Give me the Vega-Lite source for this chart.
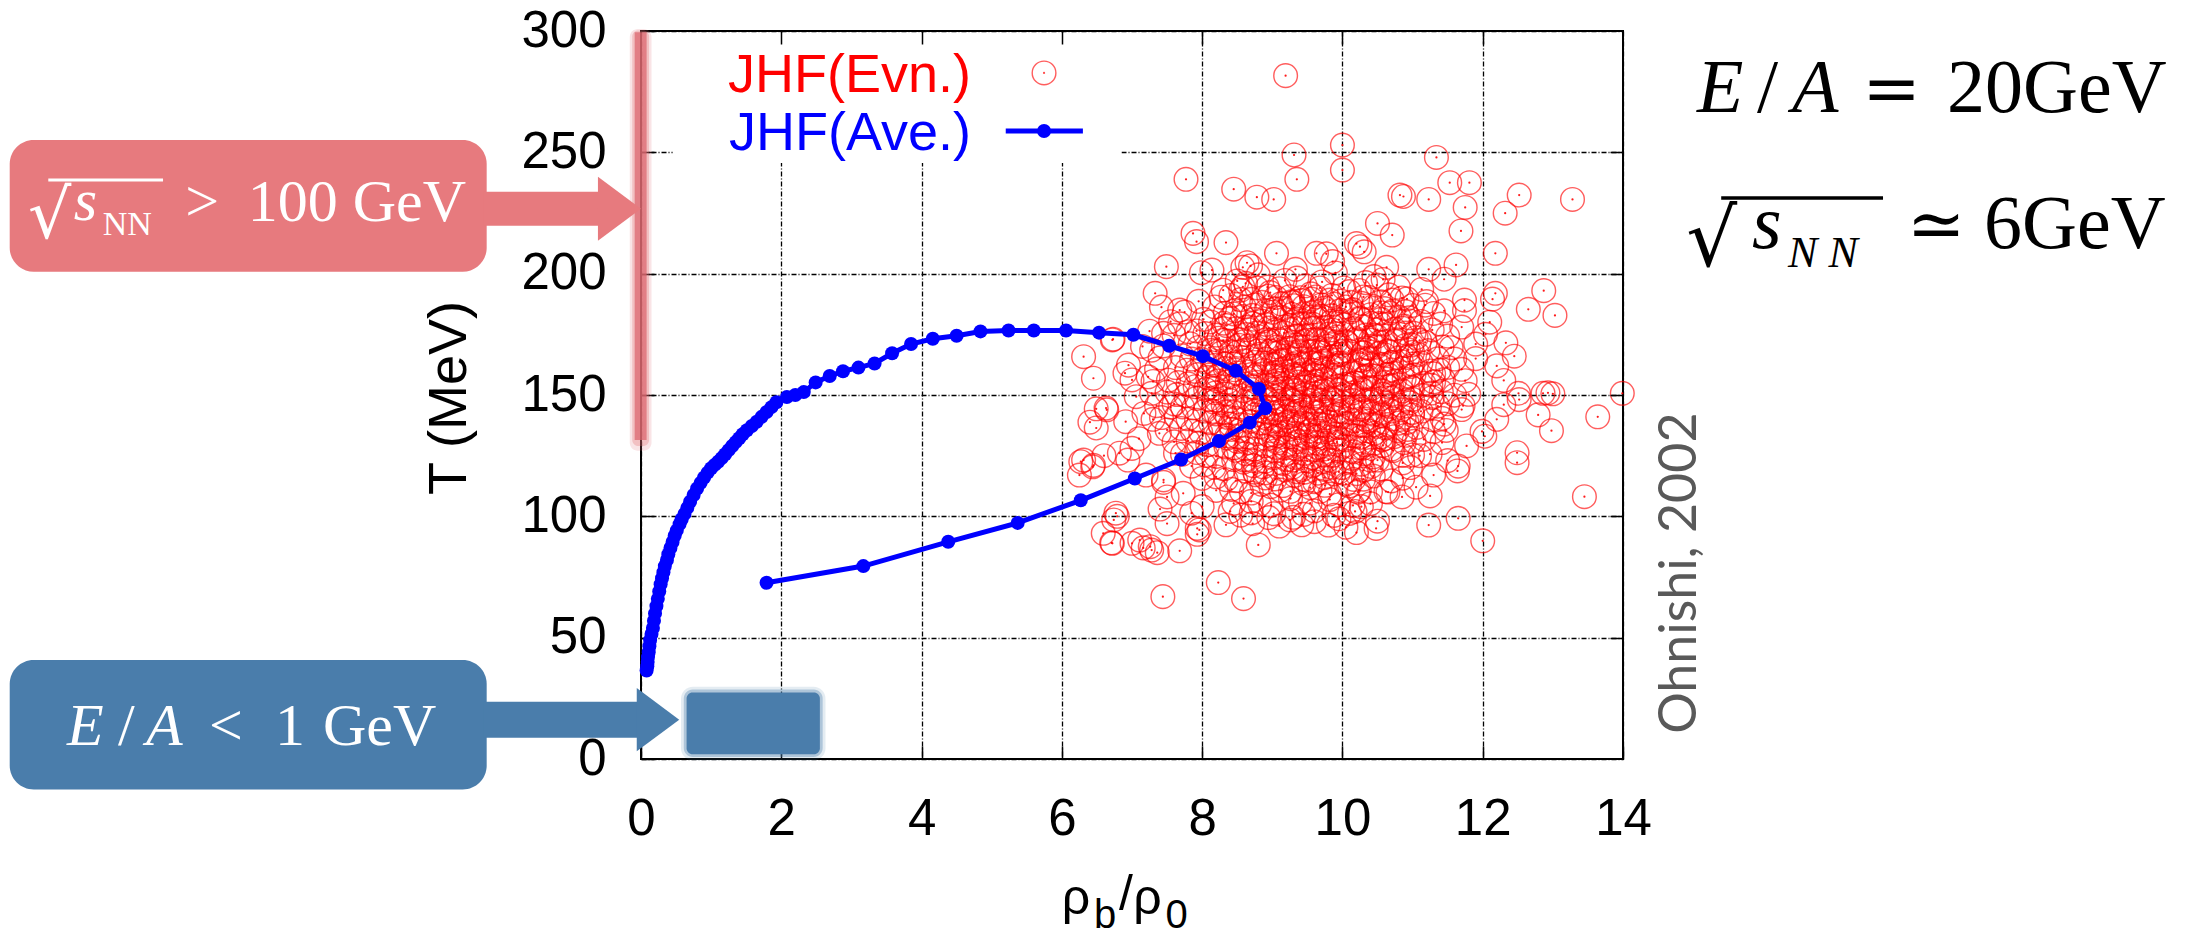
{
"$schema":"https://vega.github.io/schema/vega-lite/v6.json",
"width":982,"height":728,"autosize":"none",
"padding":{"left":641,"top":31,"right":576,"bottom":177},
"background":"#ffffff",
"config":{"view":{"stroke":"#000000","strokeWidth":2}},
"datasets":{
"events":[
{"x":9.19,"t":281.6},{"x":9.31,"t":248.9},{"x":9.35,"t":238.9},{"x":7.77,"t":238.9},{"x":8.45,"t":234.8},{"x":8.78,"t":231.5},{"x":9.02,"t":230.6},{"x":10.0,"t":253.0},{"x":10.0,"t":242.7},{"x":7.87,"t":216.6},{"x":7.92,"t":213.2},{"x":8.34,"t":212.8},{"x":9.06,"t":208.4},{"x":8.64,"t":204.5},{"x":8.58,"t":202.6},{"x":8.69,"t":203.2},{"x":9.33,"t":201.8},{"x":7.49,"t":202.9},{"x":9.63,"t":208.4},{"x":9.77,"t":208.2},{"x":9.86,"t":205.0},{"x":8.14,"t":201.5},{"x":7.99,"t":200.4},{"x":7.33,"t":191.9},{"x":7.68,"t":185.0},{"x":7.42,"t":186.2},{"x":6.73,"t":173.0},{"x":6.31,"t":165.8},{"x":6.45,"t":156.9},{"x":6.9,"t":159.0},{"x":7.0,"t":156.2},{"x":7.15,"t":170.0},{"x":8.5,"t":197.0},{"x":8.27,"t":190.3},{"x":8.55,"t":193.2},{"x":8.78,"t":194.1},{"x":9.05,"t":190.2},{"x":9.3,"t":188.1},{"x":9.62,"t":190.4},{"x":7.55,"t":180.2},{"x":7.25,"t":176.3},{"x":7.8,"t":176.1},{"x":6.95,"t":162.3},
{"x":11.34,"t":247.9},{"x":11.53,"t":237.5},{"x":11.81,"t":237.5},{"x":10.82,"t":232.4},{"x":10.87,"t":231.8},{"x":11.23,"t":230.6},{"x":11.75,"t":227.3},{"x":12.52,"t":232.4},{"x":13.28,"t":230.6},{"x":12.32,"t":224.9},{"x":11.69,"t":217.6},{"x":10.5,"t":220.7},{"x":10.71,"t":215.9},{"x":10.25,"t":211.1},{"x":10.2,"t":212.4},{"x":10.31,"t":209.0},{"x":12.18,"t":208.4},{"x":10.63,"t":202.6},{"x":11.23,"t":201.8},{"x":11.62,"t":203.6},{"x":11.45,"t":197.7},{"x":11.13,"t":193.5},{"x":10.49,"t":195.3},{"x":12.18,"t":191.9},{"x":12.14,"t":189.5},{"x":12.87,"t":193.0},{"x":12.65,"t":185.3},{"x":13.03,"t":182.8},{"x":11.74,"t":189.1},{"x":11.74,"t":184.8},{"x":11.45,"t":184.7},{"x":11.18,"t":187.0},{"x":10.85,"t":190.0},{"x":12.33,"t":171.5},{"x":12.04,"t":175.0},{"x":11.9,"t":171.0},{"x":12.51,"t":150.7},{"x":12.86,"t":150.7},{"x":12.93,"t":150.9},{"x":13.0,"t":150.5},{"x":13.99,"t":150.7},{"x":12.3,"t":156.0},{"x":12.2,"t":162.0},{"x":11.9,"t":165.0},{"x":12.45,"t":166.0},{"x":11.7,"t":178.0},{"x":12.1,"t":180.0},
{"x":7.44,"t":66.9},{"x":8.23,"t":72.7},{"x":8.59,"t":66.1},{"x":8.8,"t":88.2},{"x":7.68,"t":85.8},{"x":7.36,"t":85.0},{"x":7.16,"t":87.0},{"x":7.26,"t":87.5},{"x":6.71,"t":89.1},{"x":6.59,"t":93.0},{"x":6.79,"t":100.0},{"x":7.93,"t":95.0},{"x":7.93,"t":92.6},{"x":7.5,"t":97.0},{"x":9.8,"t":96.4},{"x":9.42,"t":96.5},{"x":9.1,"t":96.0},{"x":8.72,"t":97.0},{"x":8.34,"t":96.5},{"x":6.31,"t":123.2},{"x":6.25,"t":117.0},{"x":6.45,"t":121.0},{"x":6.6,"t":125.0},{"x":6.82,"t":126.0},{"x":6.91,"t":139.0},{"x":6.49,"t":144.3},{"x":6.4,"t":138.8},{"x":6.64,"t":143.9},{"x":7.0,"t":128.0},{"x":7.2,"t":117.0},{"x":7.45,"t":114.0},{"x":7.5,"t":108.0},{"x":7.4,"t":103.0},{"x":7.1,"t":132.0},{"x":7.3,"t":140.0},{"x":7.55,"t":145.0},{"x":8.0,"t":104.0},{"x":8.4,"t":102.0},
{"x":12.52,"t":148.1},{"x":12.79,"t":141.8},{"x":13.64,"t":141.0},{"x":12.98,"t":135.3},{"x":12.49,"t":126.2},{"x":12.49,"t":122.1},{"x":13.45,"t":108.1},{"x":12.03,"t":133.0},{"x":11.99,"t":135.0},{"x":11.65,"t":120.7},{"x":11.64,"t":118.7},{"x":11.5,"t":123.0},{"x":11.77,"t":129.0},{"x":11.25,"t":108.4},{"x":11.65,"t":99.2},{"x":11.23,"t":96.4},{"x":12.0,"t":89.9},{"x":10.2,"t":93.3},{"x":10.48,"t":95.0},{"x":10.5,"t":98.0},{"x":10.27,"t":104.0},{"x":10.18,"t":102.0},{"x":10.22,"t":110.0},{"x":10.65,"t":110.0},{"x":10.85,"t":108.0},{"x":11.05,"t":112.0},{"x":11.3,"t":117.0},{"x":11.1,"t":125.0},{"x":11.45,"t":138.0},{"x":11.7,"t":144.0},{"x":12.2,"t":140.0},{"x":12.3,"t":146.0},
{"x":6.63,"t":144.6},{"x":6.49,"t":136.4},{"x":6.27,"t":122.5},{"x":6.44,"t":120.4},{"x":6.94,"t":123.2},{"x":6.77,"t":101.3},{"x":6.74,"t":98.5},{"x":6.72,"t":88.9},{"x":7.0,"t":88.9},{"x":7.11,"t":90.2},{"x":7.28,"t":86.1},{"x":7.45,"t":175.4},{"x":7.28,"t":168.5},{"x":6.72,"t":172.7},{"x":7.23,"t":157.5},{"x":7.06,"t":149.3},{"x":7.17,"t":142.4},{"x":7.39,"t":134.2},{"x":7.62,"t":126.0},{"x":7.45,"t":115.0},{"x":7.73,"t":109.5},{"x":7.85,"t":101.3},{"x":7.96,"t":94.4},{"x":8.95,"t":99.5},{"x":9.25,"t":98.5},{"x":9.6,"t":97.8},{"x":9.95,"t":99.0},{"x":10.05,"t":95.5},{"x":8.55,"t":100.5},
{"x":8.62,"t":196},{"x":8.93,"t":194.5},{"x":9.18,"t":197.2},{"x":9.47,"t":195},{"x":9.71,"t":196.6},{"x":10.02,"t":194.1},{"x":10.33,"t":196.3},{"x":10.58,"t":197.6},
{"x":8.41,"t":191},{"x":8.7,"t":189.4},{"x":8.97,"t":192.2},{"x":9.25,"t":190.5},{"x":9.55,"t":191.7},{"x":9.82,"t":189.1},{"x":10.1,"t":192.6},{"x":10.38,"t":190.2},{"x":10.66,"t":191.3},{"x":10.92,"t":189.6},
{"x":8.18,"t":186.3},{"x":8.47,"t":184.8},{"x":8.76,"t":187.1},{"x":9.03,"t":185.5},{"x":9.31,"t":186.8},{"x":9.6,"t":184.2},{"x":9.88,"t":187.4},{"x":10.15,"t":185.1},{"x":10.44,"t":186.5},{"x":10.72,"t":184.6},{"x":11.0,"t":186.9},
{"x":8.02,"t":181.2},{"x":8.31,"t":179.6},{"x":8.58,"t":182.3},{"x":8.86,"t":180.4},{"x":9.14,"t":181.9},{"x":9.41,"t":179.2},{"x":9.7,"t":182.5},{"x":9.97,"t":180.1},{"x":10.26,"t":181.4},{"x":10.53,"t":179.5},{"x":10.81,"t":182},{"x":11.12,"t":180.3},
{"x":7.92,"t":176.4},{"x":8.2,"t":174.7},{"x":8.49,"t":177.3},{"x":8.77,"t":175.5},{"x":9.05,"t":176.9},{"x":9.33,"t":174.3},{"x":9.6,"t":177.6},{"x":9.9,"t":175.2},{"x":10.17,"t":176.5},{"x":10.45,"t":174.6},{"x":10.74,"t":177.1},{"x":11.02,"t":175.4},{"x":11.28,"t":176.8},
{"x":7.83,"t":171.1},{"x":8.1,"t":169.5},{"x":8.38,"t":172.2},{"x":8.66,"t":170.3},{"x":8.94,"t":171.8},{"x":9.22,"t":169.2},{"x":9.5,"t":172.6},{"x":9.78,"t":170.1},{"x":10.06,"t":171.5},{"x":10.35,"t":169.4},{"x":10.62,"t":172},{"x":10.9,"t":170.4},{"x":11.18,"t":171.7},{"x":11.42,"t":169.8},
{"x":7.71,"t":166.2},{"x":8.0,"t":164.6},{"x":8.27,"t":167.3},{"x":8.56,"t":165.4},{"x":8.83,"t":166.8},{"x":9.12,"t":164.3},{"x":9.4,"t":167.5},{"x":9.68,"t":165.1},{"x":9.95,"t":166.6},{"x":10.24,"t":164.5},{"x":10.52,"t":167.1},{"x":10.8,"t":165.3},{"x":11.08,"t":166.7},{"x":11.36,"t":164.9},
{"x":7.62,"t":161.3},{"x":7.9,"t":159.7},{"x":8.18,"t":162.2},{"x":8.46,"t":160.4},{"x":8.74,"t":161.9},{"x":9.02,"t":159.3},{"x":9.3,"t":162.6},{"x":9.58,"t":160.1},{"x":9.86,"t":161.6},{"x":10.14,"t":159.5},{"x":10.42,"t":162.1},{"x":10.7,"t":160.3},{"x":10.98,"t":161.8},{"x":11.26,"t":159.9},{"x":11.5,"t":161.4},
{"x":7.52,"t":156.1},{"x":7.8,"t":154.6},{"x":8.08,"t":157.2},{"x":8.36,"t":155.3},{"x":8.64,"t":156.8},{"x":8.92,"t":154.2},{"x":9.2,"t":157.5},{"x":9.48,"t":155.1},{"x":9.76,"t":156.6},{"x":10.04,"t":154.4},{"x":10.32,"t":157.1},{"x":10.6,"t":155.2},{"x":10.88,"t":156.7},{"x":11.16,"t":154.8},{"x":11.44,"t":156.3},
{"x":7.5,"t":151.2},{"x":7.77,"t":149.6},{"x":8.05,"t":152.3},{"x":8.33,"t":150.4},{"x":8.6,"t":151.8},{"x":8.9,"t":149.3},{"x":9.17,"t":152.6},{"x":9.45,"t":150.1},{"x":9.73,"t":151.6},{"x":10.01,"t":149.5},{"x":10.29,"t":152.1},{"x":10.57,"t":150.3},{"x":10.85,"t":151.7},{"x":11.13,"t":149.8},{"x":11.41,"t":151.4},{"x":11.6,"t":149.9},
{"x":7.6,"t":146.3},{"x":7.88,"t":144.7},{"x":8.16,"t":147.2},{"x":8.44,"t":145.4},{"x":8.72,"t":146.9},{"x":9.0,"t":144.3},{"x":9.28,"t":147.6},{"x":9.56,"t":145.2},{"x":9.84,"t":146.6},{"x":10.12,"t":144.5},{"x":10.4,"t":147.1},{"x":10.68,"t":145.3},{"x":10.96,"t":146.8},{"x":11.24,"t":144.9},{"x":11.5,"t":146.4},
{"x":7.63,"t":141.1},{"x":7.92,"t":139.6},{"x":8.2,"t":142.2},{"x":8.48,"t":140.3},{"x":8.76,"t":141.8},{"x":9.04,"t":139.2},{"x":9.32,"t":142.5},{"x":9.6,"t":140.1},{"x":9.88,"t":141.6},{"x":10.16,"t":139.4},{"x":10.44,"t":142.1},{"x":10.72,"t":140.2},{"x":11.0,"t":141.7},{"x":11.28,"t":139.8},
{"x":7.7,"t":136.2},{"x":7.98,"t":134.6},{"x":8.26,"t":137.3},{"x":8.54,"t":135.4},{"x":8.82,"t":136.9},{"x":9.1,"t":134.3},{"x":9.38,"t":137.5},{"x":9.66,"t":135.2},{"x":9.94,"t":136.6},{"x":10.22,"t":134.5},{"x":10.5,"t":137.1},{"x":10.78,"t":135.3},{"x":11.06,"t":136.7},{"x":11.3,"t":134.9},
{"x":7.8,"t":131.1},{"x":8.08,"t":129.5},{"x":8.36,"t":132.2},{"x":8.64,"t":130.3},{"x":8.92,"t":131.8},{"x":9.2,"t":129.2},{"x":9.48,"t":132.6},{"x":9.76,"t":130.1},{"x":10.04,"t":131.5},{"x":10.32,"t":129.4},{"x":10.6,"t":132},{"x":10.88,"t":130.4},{"x":11.16,"t":131.7},
{"x":7.92,"t":126.3},{"x":8.2,"t":124.7},{"x":8.48,"t":127.2},{"x":8.76,"t":125.4},{"x":9.04,"t":126.9},{"x":9.32,"t":124.3},{"x":9.6,"t":127.6},{"x":9.88,"t":125.2},{"x":10.16,"t":126.6},{"x":10.44,"t":124.5},{"x":10.72,"t":127.1},{"x":11.0,"t":125.3},
{"x":8.03,"t":121.2},{"x":8.31,"t":119.6},{"x":8.59,"t":122.3},{"x":8.87,"t":120.4},{"x":9.15,"t":121.8},{"x":9.43,"t":119.3},{"x":9.71,"t":122.6},{"x":9.99,"t":120.1},{"x":10.27,"t":121.5},{"x":10.55,"t":119.5},{"x":10.86,"t":122},
{"x":8.2,"t":116.3},{"x":8.48,"t":114.7},{"x":8.76,"t":117.2},{"x":9.04,"t":115.4},{"x":9.32,"t":116.9},{"x":9.6,"t":114.3},{"x":9.88,"t":117.5},{"x":10.16,"t":115.2},{"x":10.44,"t":116.6},{"x":10.7,"t":114.6},
{"x":8.42,"t":111.1},{"x":8.7,"t":109.6},{"x":8.98,"t":112.2},{"x":9.26,"t":110.3},{"x":9.54,"t":111.8},{"x":9.82,"t":109.2},{"x":10.1,"t":112.5},{"x":10.4,"t":110.1},
{"x":8.7,"t":106.2},{"x":8.98,"t":104.6},{"x":9.26,"t":107.3},{"x":9.54,"t":105.4},{"x":9.82,"t":106.9},{"x":10.15,"t":104.5},
{"x":9.02,"t":101.1},{"x":9.3,"t":99.6},{"x":9.6,"t":102.2},{"x":9.88,"t":100.4},
{"x":8.85,"t":188.2},{"x":9.12,"t":187.6},{"x":9.42,"t":188.9},{"x":9.7,"t":187.1},{"x":9.98,"t":188.7},{"x":10.27,"t":187.8},{"x":10.55,"t":188.4},
{"x":8.45,"t":183.4},{"x":8.72,"t":182.8},{"x":9.0,"t":184.1},{"x":9.28,"t":183.2},{"x":9.55,"t":183.9},{"x":9.84,"t":182.6},{"x":10.12,"t":184.3},{"x":10.4,"t":183.1},{"x":10.68,"t":183.7},
{"x":8.35,"t":178.6},{"x":8.63,"t":177.9},{"x":8.91,"t":179.1},{"x":9.19,"t":178.2},{"x":9.47,"t":179.3},{"x":9.75,"t":177.8},{"x":10.03,"t":178.9},{"x":10.31,"t":178.1},{"x":10.6,"t":179.2},{"x":10.88,"t":178.4},
{"x":8.24,"t":173.4},{"x":8.52,"t":172.9},{"x":8.8,"t":174.1},{"x":9.08,"t":173.1},{"x":9.36,"t":174.3},{"x":9.64,"t":172.7},{"x":9.92,"t":173.9},{"x":10.2,"t":173.2},{"x":10.49,"t":174.2},{"x":10.77,"t":172.8},{"x":11.05,"t":173.6},
{"x":8.13,"t":168.4},{"x":8.41,"t":167.8},{"x":8.69,"t":169.1},{"x":8.97,"t":168.2},{"x":9.25,"t":169.3},{"x":9.53,"t":167.7},{"x":9.81,"t":168.9},{"x":10.09,"t":168.1},{"x":10.38,"t":169.2},{"x":10.66,"t":167.9},{"x":10.94,"t":168.6},{"x":11.22,"t":168.3},
{"x":8.04,"t":163.6},{"x":8.32,"t":162.9},{"x":8.6,"t":164.1},{"x":8.88,"t":163.2},{"x":9.16,"t":164.2},{"x":9.44,"t":162.8},{"x":9.72,"t":163.9},{"x":10.0,"t":163.1},{"x":10.28,"t":164.3},{"x":10.56,"t":162.7},{"x":10.84,"t":163.8},{"x":11.12,"t":163.3},
{"x":7.94,"t":158.4},{"x":8.22,"t":157.9},{"x":8.5,"t":159.1},{"x":8.78,"t":158.1},{"x":9.06,"t":159.3},{"x":9.34,"t":157.7},{"x":9.62,"t":158.8},{"x":9.9,"t":158.2},{"x":10.18,"t":159.2},{"x":10.46,"t":157.8},{"x":10.74,"t":158.9},{"x":11.02,"t":158.3},{"x":11.3,"t":158.7},
{"x":7.9,"t":153.4},{"x":8.18,"t":152.8},{"x":8.46,"t":154.1},{"x":8.74,"t":153.2},{"x":9.02,"t":154.2},{"x":9.3,"t":152.7},{"x":9.58,"t":153.9},{"x":9.86,"t":153.1},{"x":10.14,"t":154.3},{"x":10.42,"t":152.8},{"x":10.7,"t":153.8},{"x":10.98,"t":153.2},{"x":11.26,"t":154.1},
{"x":7.92,"t":148.6},{"x":8.2,"t":147.9},{"x":8.48,"t":149.1},{"x":8.76,"t":148.2},{"x":9.04,"t":149.2},{"x":9.32,"t":147.8},{"x":9.6,"t":148.9},{"x":9.88,"t":148.1},{"x":10.16,"t":149.3},{"x":10.44,"t":147.7},{"x":10.72,"t":148.8},{"x":11.0,"t":148.2},{"x":11.28,"t":148.9},
{"x":8.04,"t":143.4},{"x":8.32,"t":142.9},{"x":8.6,"t":144.1},{"x":8.88,"t":143.2},{"x":9.16,"t":144.2},{"x":9.44,"t":142.8},{"x":9.72,"t":143.8},{"x":10.0,"t":143.1},{"x":10.28,"t":144.2},{"x":10.56,"t":142.7},{"x":10.84,"t":143.9},{"x":11.12,"t":143.3},
{"x":8.12,"t":138.6},{"x":8.4,"t":137.9},{"x":8.68,"t":139.1},{"x":8.96,"t":138.2},{"x":9.24,"t":139.3},{"x":9.52,"t":137.7},{"x":9.8,"t":138.9},{"x":10.08,"t":138.1},{"x":10.36,"t":139.2},{"x":10.64,"t":137.8},{"x":10.92,"t":138.7},
{"x":8.22,"t":133.4},{"x":8.5,"t":132.8},{"x":8.78,"t":134.1},{"x":9.06,"t":133.2},{"x":9.34,"t":134.2},{"x":9.62,"t":132.7},{"x":9.9,"t":133.9},{"x":10.18,"t":133.1},{"x":10.46,"t":134.3},{"x":10.74,"t":132.8},
{"x":8.34,"t":128.6},{"x":8.62,"t":127.9},{"x":8.9,"t":129.1},{"x":9.18,"t":128.2},{"x":9.46,"t":129.3},{"x":9.74,"t":127.8},{"x":10.02,"t":128.9},{"x":10.3,"t":128.1},{"x":10.58,"t":129.2},
{"x":8.45,"t":123.4},{"x":8.73,"t":122.9},{"x":9.01,"t":124.1},{"x":9.29,"t":123.2},{"x":9.57,"t":124.2},{"x":9.85,"t":122.8},{"x":10.13,"t":123.9},{"x":10.41,"t":123.1},
{"x":8.62,"t":118.6},{"x":8.9,"t":117.9},{"x":9.18,"t":119.1},{"x":9.46,"t":118.2},{"x":9.74,"t":119.3},{"x":10.02,"t":117.8},{"x":10.3,"t":118.9},
{"x":8.8,"t":199.5},{"x":9.35,"t":198.2},{"x":9.9,"t":200.3},{"x":10.45,"t":198.8},
{"x":8.3,"t":193.2},{"x":8.58,"t":194.6},{"x":9.1,"t":193.8},{"x":9.68,"t":194.1},{"x":10.24,"t":193.1},{"x":10.8,"t":194.4},
{"x":7.95,"t":188.6},{"x":8.55,"t":189.3},{"x":9.27,"t":188.4},{"x":9.56,"t":189.5},{"x":10.12,"t":188.2},{"x":10.71,"t":189.1},{"x":11.2,"t":188.5},
{"x":7.75,"t":184.2},{"x":8.33,"t":183.7},{"x":8.91,"t":184.6},{"x":9.45,"t":183.5},{"x":9.97,"t":184.8},{"x":10.55,"t":183.9},{"x":10.9,"t":184.4},{"x":11.3,"t":183.6},
{"x":7.68,"t":179.3},{"x":8.12,"t":180.1},{"x":8.72,"t":179.4},{"x":9.3,"t":180.2},{"x":9.58,"t":179.1},{"x":9.85,"t":180.4},{"x":10.4,"t":179.6},{"x":10.96,"t":180.5},{"x":11.4,"t":179.2},
{"x":7.6,"t":174.6},{"x":8.04,"t":175.3},{"x":8.63,"t":174.9},{"x":9.17,"t":175.6},{"x":9.48,"t":174.4},{"x":9.8,"t":175.1},{"x":10.33,"t":174.7},{"x":10.9,"t":175.5},{"x":11.5,"t":174.3},
{"x":7.45,"t":170.2},{"x":7.95,"t":169.6},{"x":8.52,"t":170.5},{"x":9.07,"t":169.8},{"x":9.35,"t":170.6},{"x":9.65,"t":169.4},{"x":9.98,"t":170.3},{"x":10.48,"t":169.7},{"x":10.99,"t":170.6},{"x":11.55,"t":169.5},
{"x":7.4,"t":165.3},{"x":7.85,"t":164.8},{"x":8.4,"t":165.6},{"x":8.92,"t":164.7},{"x":9.25,"t":165.4},{"x":9.55,"t":164.6},{"x":9.85,"t":165.7},{"x":10.36,"t":164.9},{"x":10.93,"t":165.5},{"x":11.6,"t":164.8},
{"x":7.35,"t":160.7},{"x":7.78,"t":160.2},{"x":8.33,"t":160.9},{"x":8.88,"t":160.1},{"x":9.15,"t":160.8},{"x":9.45,"t":160.3},{"x":9.72,"t":161.0},{"x":10.27,"t":160.4},{"x":10.85,"t":160.9},{"x":11.38,"t":160.2},{"x":11.7,"t":160.6},
{"x":7.3,"t":155.6},{"x":7.66,"t":155.1},{"x":8.22,"t":155.8},{"x":8.78,"t":155.2},{"x":9.06,"t":155.9},{"x":9.37,"t":155.3},{"x":9.62,"t":155.7},{"x":10.18,"t":155.0},{"x":10.74,"t":155.8},{"x":11.3,"t":155.4},{"x":11.75,"t":155.9},
{"x":7.28,"t":150.7},{"x":7.64,"t":150.2},{"x":8.19,"t":150.9},{"x":8.75,"t":150.3},{"x":9.03,"t":150.8},{"x":9.3,"t":150.1},{"x":9.6,"t":150.6},{"x":9.95,"t":150.2},{"x":10.15,"t":150.9},{"x":10.71,"t":150.4},{"x":11.27,"t":150.8},{"x":11.8,"t":150.3},
{"x":7.35,"t":145.6},{"x":7.72,"t":145.1},{"x":8.3,"t":145.8},{"x":8.86,"t":145.2},{"x":9.14,"t":145.9},{"x":9.42,"t":145.3},{"x":9.7,"t":145.7},{"x":10.26,"t":145.1},{"x":10.82,"t":145.8},{"x":11.36,"t":145.4},{"x":11.72,"t":145.6},
{"x":7.42,"t":140.7},{"x":7.8,"t":140.2},{"x":8.36,"t":140.8},{"x":8.92,"t":140.4},{"x":9.2,"t":140.9},{"x":9.48,"t":140.3},{"x":9.76,"t":140.6},{"x":10.32,"t":140.1},{"x":10.88,"t":140.8},{"x":11.42,"t":140.4},
{"x":7.5,"t":135.6},{"x":7.86,"t":135.2},{"x":8.42,"t":135.8},{"x":8.98,"t":135.3},{"x":9.25,"t":135.9},{"x":9.53,"t":135.1},{"x":9.81,"t":135.7},{"x":10.37,"t":135.2},{"x":10.93,"t":135.8},{"x":11.48,"t":135.4},
{"x":7.6,"t":130.7},{"x":7.95,"t":130.2},{"x":8.5,"t":130.9},{"x":9.08,"t":130.3},{"x":9.36,"t":130.8},{"x":9.64,"t":130.1},{"x":9.92,"t":130.6},{"x":10.46,"t":130.2},{"x":11.02,"t":130.9},{"x":11.42,"t":130.4},
{"x":7.72,"t":125.6},{"x":8.06,"t":125.1},{"x":8.62,"t":125.8},{"x":9.18,"t":125.3},{"x":9.46,"t":125.9},{"x":9.74,"t":125.2},{"x":10.3,"t":125.7},{"x":10.86,"t":125.1},{"x":11.25,"t":125.6},
{"x":7.85,"t":120.7},{"x":8.17,"t":120.2},{"x":8.73,"t":120.9},{"x":9.29,"t":120.3},{"x":9.57,"t":120.8},{"x":9.85,"t":120.2},{"x":10.41,"t":120.6},{"x":10.97,"t":120.1},
{"x":8.0,"t":115.6},{"x":8.34,"t":115.1},{"x":8.9,"t":115.8},{"x":9.46,"t":115.2},{"x":9.74,"t":115.9},{"x":10.3,"t":115.3},{"x":10.86,"t":115.7},
{"x":8.2,"t":110.7},{"x":8.56,"t":110.2},{"x":9.12,"t":110.8},{"x":9.68,"t":110.3},{"x":10.24,"t":110.6},{"x":10.62,"t":110.2},
{"x":8.45,"t":105.3},{"x":8.82,"t":104.9},{"x":9.4,"t":105.6},{"x":9.95,"t":104.8},{"x":10.4,"t":105.2},
{"x":8.7,"t":101.4},{"x":9.45,"t":100.8},{"x":10.1,"t":101.2},
{"x":8.98,"t":172.4},{"x":9.29,"t":171.6},{"x":9.6,"t":172.8},{"x":9.91,"t":171.9},{"x":10.22,"t":172.5},{"x":10.53,"t":171.7},
{"x":9.05,"t":167.2},{"x":9.36,"t":166.5},{"x":9.67,"t":167.6},{"x":9.98,"t":166.8},{"x":10.29,"t":167.4},{"x":10.6,"t":166.6},
{"x":9.0,"t":162.3},{"x":9.31,"t":161.7},{"x":9.62,"t":162.7},{"x":9.93,"t":161.9},{"x":10.24,"t":162.4},{"x":10.55,"t":161.6},
{"x":9.08,"t":157.2},{"x":9.39,"t":156.6},{"x":9.7,"t":157.6},{"x":10.01,"t":156.8},{"x":10.32,"t":157.4},{"x":10.63,"t":156.5},
{"x":9.02,"t":152.4},{"x":9.33,"t":151.7},{"x":9.64,"t":152.7},{"x":9.95,"t":151.9},{"x":10.26,"t":152.5},{"x":10.57,"t":151.6},
{"x":9.08,"t":147.3},{"x":9.39,"t":146.6},{"x":9.7,"t":147.7},{"x":10.01,"t":146.8},{"x":10.32,"t":147.4},{"x":10.63,"t":146.5},
{"x":9.0,"t":142.4},{"x":9.31,"t":141.7},{"x":9.62,"t":142.8},{"x":9.93,"t":141.9},{"x":10.24,"t":142.5},{"x":10.55,"t":141.6},
{"x":9.06,"t":137.2},{"x":9.37,"t":136.6},{"x":9.68,"t":137.7},{"x":9.99,"t":136.8},{"x":10.3,"t":137.4},{"x":10.61,"t":136.5},
{"x":9.02,"t":132.4},{"x":9.33,"t":131.7},{"x":9.64,"t":132.8},{"x":9.95,"t":131.9},{"x":10.26,"t":132.5},{"x":10.57,"t":131.6},
{"x":8.95,"t":190.7},{"x":9.4,"t":190.1},{"x":9.85,"t":191.0},{"x":10.3,"t":190.4},
{"x":8.6,"t":186.2},{"x":9.15,"t":185.7},{"x":9.45,"t":186.4},{"x":9.75,"t":185.8},{"x":10.05,"t":186.3},{"x":10.6,"t":185.6},
{"x":8.4,"t":181.7},{"x":8.75,"t":181.2},{"x":9.05,"t":181.9},{"x":9.35,"t":181.3},{"x":9.65,"t":181.8},{"x":9.95,"t":181.1},{"x":10.25,"t":181.7},{"x":10.55,"t":181.2},{"x":10.95,"t":181.8},
{"x":8.3,"t":177.4},{"x":8.65,"t":176.9},{"x":8.95,"t":177.6},{"x":9.25,"t":177.0},{"x":9.55,"t":177.5},{"x":9.85,"t":176.8},{"x":10.15,"t":177.4},{"x":10.5,"t":176.9},{"x":10.85,"t":177.6},
{"x":8.3,"t":172.5},{"x":8.6,"t":172.0},{"x":8.9,"t":172.7},{"x":9.45,"t":172.1},{"x":9.75,"t":172.6},{"x":10.05,"t":172.0},{"x":10.4,"t":172.6},{"x":10.75,"t":172.1},{"x":11.1,"t":172.5},
{"x":8.2,"t":168.0},{"x":8.5,"t":167.5},{"x":8.8,"t":168.2},{"x":9.1,"t":167.6},{"x":9.4,"t":168.1},{"x":9.7,"t":167.4},{"x":10.0,"t":168.0},{"x":10.3,"t":167.5},{"x":10.65,"t":168.2},{"x":11.0,"t":167.6},
{"x":8.15,"t":163.2},{"x":8.45,"t":162.7},{"x":8.75,"t":163.4},{"x":9.05,"t":162.8},{"x":9.35,"t":163.3},{"x":9.65,"t":162.6},{"x":9.95,"t":163.2},{"x":10.4,"t":162.7},{"x":10.7,"t":163.4},{"x":11.0,"t":162.8},
{"x":8.1,"t":158.2},{"x":8.4,"t":157.7},{"x":8.7,"t":158.4},{"x":9.0,"t":157.8},{"x":9.3,"t":158.3},{"x":9.55,"t":157.6},{"x":9.85,"t":158.2},{"x":10.35,"t":157.7},{"x":10.65,"t":158.4},{"x":10.95,"t":157.8},
{"x":8.1,"t":153.2},{"x":8.4,"t":152.7},{"x":8.7,"t":153.4},{"x":9.15,"t":152.8},{"x":9.45,"t":153.3},{"x":9.75,"t":152.6},{"x":10.05,"t":153.2},{"x":10.35,"t":152.7},{"x":10.65,"t":153.4},{"x":11.0,"t":152.8},
{"x":8.1,"t":148.2},{"x":8.4,"t":147.7},{"x":8.65,"t":148.4},{"x":8.95,"t":147.8},{"x":9.25,"t":148.3},{"x":9.55,"t":147.6},{"x":9.85,"t":148.2},{"x":10.15,"t":147.7},{"x":10.55,"t":148.4},{"x":10.9,"t":147.8},
{"x":8.15,"t":143.2},{"x":8.45,"t":142.7},{"x":8.75,"t":143.4},{"x":9.05,"t":142.8},{"x":9.35,"t":143.3},{"x":9.65,"t":142.6},{"x":9.95,"t":143.2},{"x":10.4,"t":142.7},{"x":10.7,"t":143.4},{"x":11.0,"t":142.8},
{"x":8.25,"t":138.2},{"x":8.55,"t":137.7},{"x":8.85,"t":138.4},{"x":9.15,"t":137.8},{"x":9.45,"t":138.3},{"x":9.75,"t":137.6},{"x":10.05,"t":138.2},{"x":10.45,"t":137.7},{"x":10.8,"t":138.4},
{"x":8.35,"t":133.2},{"x":8.65,"t":132.7},{"x":8.95,"t":133.4},{"x":9.25,"t":132.8},{"x":9.55,"t":133.3},{"x":9.85,"t":132.6},{"x":10.15,"t":133.2},{"x":10.55,"t":132.7},{"x":10.9,"t":133.4},
{"x":8.45,"t":128.2},{"x":8.75,"t":127.7},{"x":9.05,"t":128.4},{"x":9.35,"t":127.8},{"x":9.65,"t":128.3},{"x":9.95,"t":127.6},{"x":10.25,"t":128.2},{"x":10.7,"t":127.7},
{"x":8.6,"t":123.2},{"x":8.9,"t":122.7},{"x":9.2,"t":123.4},{"x":9.5,"t":122.8},{"x":9.8,"t":123.3},{"x":10.1,"t":122.6},{"x":10.5,"t":123.2},
{"x":8.75,"t":118.2},{"x":9.05,"t":117.7},{"x":9.35,"t":118.4},{"x":9.65,"t":117.8},{"x":9.95,"t":118.3},{"x":10.2,"t":117.6},
{"x":8.85,"t":113.2},{"x":9.15,"t":112.7},{"x":9.45,"t":113.4},{"x":9.75,"t":112.8},{"x":10.05,"t":113.3}
],
"ave":[
{"o":1,"x":1.79,"t":72.6},{"o":2,"x":3.17,"t":79.5},{"o":3,"x":4.38,"t":89.5},{"o":4,"x":5.37,"t":97.3},{"o":5,"x":6.27,"t":106.6},{"o":6,"x":7.04,"t":115.6},{"o":7,"x":7.7,"t":123.4},{"o":8,"x":8.24,"t":131},{"o":9,"x":8.68,"t":138.6},{"o":10,"x":8.9,"t":144.5},{"o":11,"x":8.81,"t":152.5},{"o":12,"x":8.48,"t":160},{"o":13,"x":8.01,"t":166},{"o":14,"x":7.53,"t":170.3},{"o":15,"x":7.02,"t":174.8},{"o":16,"x":6.53,"t":175.7},{"o":17,"x":6.06,"t":176.6},{"o":18,"x":5.6,"t":176.6},{"o":19,"x":5.24,"t":176.6},{"o":20,"x":4.84,"t":176.2},{"o":21,"x":4.5,"t":174.4},{"o":22,"x":4.16,"t":173.2},{"o":23,"x":3.85,"t":171},{"o":24,"x":3.58,"t":167.2},{"o":25,"x":3.33,"t":163},{"o":26,"x":3.1,"t":161.3},{"o":27,"x":2.88,"t":159.8},{"o":28,"x":2.69,"t":157.8},{"o":29,"x":2.49,"t":155.2},{"o":30,"x":2.32,"t":151.2},{"o":31,"x":2.2,"t":150},{"o":32,"x":2.08,"t":149.2},{"o":33,"x":1.93,"t":147},{"o":34,"x":1.86,"t":145},{"o":35,"x":1.79,"t":143},{"o":36,"x":1.72,"t":141},{"o":37,"x":1.65,"t":139},{"o":38,"x":1.58,"t":137.2},{"o":39,"x":1.51,"t":135.5},{"o":40,"x":1.45,"t":133.8},{"o":41,"x":1.4,"t":132.2},{"o":42,"x":1.35,"t":130.6},{"o":43,"x":1.3,"t":129},{"o":44,"x":1.25,"t":127.3},{"o":45,"x":1.2,"t":125.6},{"o":46,"x":1.15,"t":124},{"o":47,"x":1.1,"t":122.5},{"o":48,"x":1.05,"t":121.2},{"o":49,"x":1.0,"t":119.8},{"o":50,"x":0.95,"t":118},{"o":51,"x":0.9,"t":116},{"o":52,"x":0.85,"t":113.8},{"o":53,"x":0.8,"t":111.5},{"o":54,"x":0.75,"t":108.8},{"o":55,"x":0.7,"t":106},{"o":56,"x":0.66,"t":103.5},{"o":57,"x":0.62,"t":101},{"o":58,"x":0.58,"t":98.8},{"o":59,"x":0.55,"t":96.8},{"o":60,"x":0.51,"t":94.2},{"o":61,"x":0.48,"t":92},{"o":62,"x":0.45,"t":89.4},{"o":63,"x":0.42,"t":87},{"o":64,"x":0.39,"t":84.4},{"o":65,"x":0.37,"t":82},{"o":66,"x":0.34,"t":79.5},{"o":67,"x":0.32,"t":77},{"o":68,"x":0.3,"t":74.5},{"o":69,"x":0.28,"t":72},{"o":70,"x":0.26,"t":69},{"o":71,"x":0.24,"t":66},{"o":72,"x":0.22,"t":63},{"o":73,"x":0.2,"t":60},{"o":74,"x":0.185,"t":57},{"o":75,"x":0.17,"t":54},{"o":76,"x":0.15,"t":51.5},{"o":77,"x":0.13,"t":49},{"o":78,"x":0.12,"t":46.5},{"o":79,"x":0.11,"t":44},{"o":80,"x":0.1,"t":42},{"o":81,"x":0.095,"t":40},{"o":82,"x":0.09,"t":38.2},{"o":83,"x":0.08,"t":36.5}
],
"legbox":[{"x":0.45,"x2":6.85,"t":245.6,"t2":299.2}],
"legevn":[{"x":4.705,"t":274.9,"label":"JHF(Evn.)"}],
"legave":[{"x":4.705,"t":251.0,"label":"JHF(Ave.)"}],
"legsym":[{"x":5.746,"t":282.7}],
"legline":[{"x":5.2,"t":258.8},{"x":6.3,"t":258.8}],
"legdot":[{"x":5.746,"t":258.8}],
"pinkglow":[{"x":-0.16,"x2":0.15,"t":127.0,"t2":300.8}],
"pinkglow2":[{"x":-0.125,"x2":0.115,"t":129.0,"t2":300.2}],
"pinkband":[{"x":-0.09,"x2":0.08,"t":131.5,"t2":299.5}],
"pinkbox":[{"x":-9.0,"x2":-2.2,"t":255.1,"t2":200.8}],
"pinkshaft":[{"x":-2.25,"x2":-0.6,"t":226.8}],
"pinkhead":[{"x":-0.307,"t":226.8}],
"bluebox":[{"x":-9.0,"x2":-2.2,"t":40.8,"t2":-12.6}],
"blueshaft":[{"x":-2.25,"x2":0.0,"t":16.2}],
"bluehead":[{"x":0.242,"t":16.2}],
"blueglow":[{"x":0.57,"x2":2.63,"t":-0.5,"t2":29.8}],
"blueglow2":[{"x":0.61,"x2":2.59,"t":0.8,"t2":28.6}],
"bluerect":[{"x":0.65,"x2":2.55,"t":2.0,"t2":27.4}],
"w_roman":[{"x":-6.497,"t":221.7,"label":">"},{"x":-5.606,"t":221.7,"label":"100 GeV"},{"x":-7.457,"t":5.6,"label":"/"},{"x":-6.159,"t":5.6,"label":"<"},{"x":-5.218,"t":5.6,"label":"1"},{"x":-4.534,"t":5.6,"label":"GeV"}],
"w_italic":[{"x":-8.088,"t":222.1,"label":"s"},{"x":-8.184,"t":5.6,"label":"E"},{"x":-7.057,"t":5.6,"label":"A"}],
"w_sub":[{"x":-7.675,"t":215.9,"label":"NN"}],
"w_rad":[{"x":-8.74,"t":214.6,"label":"√"}],
"w_bar":[{"x":-8.45,"x2":-6.814,"t":238.6}],
"k_roman":[{"x":15.911,"t":266.6,"label":"/"},{"x":18.62,"t":266.6,"label":"20GeV"},{"x":19.147,"t":210.6,"label":"6GeV"}],
"k_italic":[{"x":15.055,"t":266.6,"label":"E"},{"x":16.41,"t":266.6,"label":"A"},{"x":15.84,"t":210.6,"label":"s"}],
"k_sub":[{"x":16.353,"t":202.7,"label":"N N"}],
"k_rad":[{"x":14.9,"t":203.1,"label":"√"}],
"k_sym":[{"x":18.05,"t":210.6,"label":"≃"},{"x":17.41,"t":266.6,"label":"="}],
"k_bar":[{"x":15.4,"x2":17.707,"t":231.2}],
"xt_main":[{"x":5.998,"t":-63.9,"label":"ρ"},{"x":7.017,"t":-63.9,"label":"ρ"},{"x":6.816,"t":-62.2,"label":"/"}],
"xt_sub":[{"x":6.459,"t":-69.6,"label":"b"},{"x":7.478,"t":-69.6,"label":"0"}],
"credit":[{"x":14.81,"t":76.6,"label":"Ohnishi, 2002"}]
},
"encoding":{
"x":{"field":"x","type":"quantitative","scale":{"domain":[0,14],"nice":false,"zero":false},"axis":null},
"y":{"field":"t","type":"quantitative","scale":{"domain":[0,300],"nice":false,"zero":false},"axis":null}
},
"resolve":{"axis":{"x":"independent","y":"independent"}},
"layer":[
{"data":{"name":"events"},"mark":{"type":"point","shape":"circle","filled":false,"stroke":"#ff0000","strokeWidth":1.4,"strokeOpacity":0.9,"size":560},
 "encoding":{
 "x":{"field":"x","type":"quantitative","scale":{"domain":[0,14],"nice":false,"zero":false},"axis":{"orient":"bottom","values":[0,2,4,6,8,10,12,14],"title":null,"grid":true,"gridDash":[5,2,1,2],"gridColor":"#000000","gridWidth":1.3,"gridOpacity":1,"domain":false,"ticks":true,"tickSize":-13,"tickColor":"#000000","tickWidth":1.5,"labelFont":"Liberation Sans","labelFontSize":51,"labelColor":"#000000","labelPadding":48,"labelFlush":false,"labelOverlap":false,"zindex":0}},
 "y":{"field":"t","type":"quantitative","scale":{"domain":[0,300],"nice":false,"zero":false},"axis":{"orient":"left","values":[0,50,100,150,200,250,300],"title":"T (MeV)","titleFont":"Liberation Sans","titleFontSize":54,"titleFontWeight":"normal","titleColor":"#000000","titleX":-176,"titleY":366.5,"titleAngle":270,"titleAlign":"center","titleBaseline":"alphabetic","grid":true,"gridDash":[5,2,1,2],"gridColor":"#000000","gridWidth":1.3,"gridOpacity":1,"domain":false,"ticks":true,"tickSize":-13,"tickColor":"#000000","tickWidth":1.5,"labelFont":"Liberation Sans","labelFontSize":51,"labelColor":"#000000","labelPadding":48,"labelFlush":false,"labelOverlap":false,"zindex":0}}
 }},
{"data":{"name":"events"},"mark":{"type":"point","shape":"circle","filled":true,"color":"#ff0000","size":5,"opacity":0.9}},
{"data":{"name":"legbox"},"mark":{"type":"rect","fill":"#ffffff"},"encoding":{"x2":{"field":"x2"},"y2":{"field":"t2"}}},
{"data":{"name":"ave"},"mark":{"type":"line","color":"#0000ff","strokeWidth":5},"encoding":{"order":{"field":"o","type":"quantitative"}}},
{"data":{"name":"ave"},"mark":{"type":"point","shape":"circle","filled":true,"color":"#0000ff","opacity":1,"size":196}},
{"data":{"name":"legevn"},"mark":{"type":"text","align":"right","baseline":"alphabetic","font":"Liberation Sans","fontSize":54,"color":"#ff0000"},"encoding":{"text":{"field":"label"}}},
{"data":{"name":"legave"},"mark":{"type":"text","align":"right","baseline":"alphabetic","font":"Liberation Sans","fontSize":54,"color":"#0000ff"},"encoding":{"text":{"field":"label"}}},
{"data":{"name":"legsym"},"mark":{"type":"point","shape":"circle","filled":false,"stroke":"#ff0000","strokeWidth":1.4,"strokeOpacity":0.9,"size":560}},
{"data":{"name":"legsym"},"mark":{"type":"point","shape":"circle","filled":true,"color":"#ff0000","size":5}},
{"data":{"name":"legline"},"mark":{"type":"line","color":"#0000ff","strokeWidth":5},"encoding":{}},
{"data":{"name":"legdot"},"mark":{"type":"point","shape":"circle","filled":true,"color":"#0000ff","opacity":1,"size":196}},
{"data":{"name":"pinkglow"},"mark":{"type":"rect","fill":"#e06c72","opacity":0.18,"cornerRadius":8},"encoding":{"x2":{"field":"x2"},"y2":{"field":"t2"}}},
{"data":{"name":"pinkglow2"},"mark":{"type":"rect","fill":"#e06c72","opacity":0.3,"cornerRadius":6},"encoding":{"x2":{"field":"x2"},"y2":{"field":"t2"}}},
{"data":{"name":"pinkband"},"mark":{"type":"rect","fill":"#dc6870","opacity":0.75},"encoding":{"x2":{"field":"x2"},"y2":{"field":"t2"}}},
{"data":{"name":"pinkbox"},"mark":{"type":"rect","fill":"#e77a7e","cornerRadius":24},"encoding":{"x2":{"field":"x2"},"y2":{"field":"t2"}}},
{"data":{"name":"pinkshaft"},"mark":{"type":"rule","color":"#e77a7e","strokeWidth":34,"strokeCap":"butt"},"encoding":{"x2":{"field":"x2"}}},
{"data":{"name":"pinkhead"},"mark":{"type":"point","shape":"M -0.672 -1 L 0.672 0 L -0.672 1 Z","filled":true,"color":"#e77a7e","opacity":1,"size":4096,"strokeWidth":0}},
{"data":{"name":"bluebox"},"mark":{"type":"rect","fill":"#4a7dab","cornerRadius":24},"encoding":{"x2":{"field":"x2"},"y2":{"field":"t2"}}},
{"data":{"name":"blueshaft"},"mark":{"type":"rule","color":"#4a7dab","strokeWidth":36,"strokeCap":"butt"},"encoding":{"x2":{"field":"x2"}}},
{"data":{"name":"bluehead"},"mark":{"type":"point","shape":"M -0.672 -1 L 0.672 0 L -0.672 1 Z","filled":true,"color":"#4a7dab","opacity":1,"size":4000,"strokeWidth":0}},
{"data":{"name":"blueglow"},"mark":{"type":"rect","fill":"#4a7dab","opacity":0.15,"cornerRadius":12},"encoding":{"x2":{"field":"x2"},"y2":{"field":"t2"}}},
{"data":{"name":"blueglow2"},"mark":{"type":"rect","fill":"#4a7dab","opacity":0.35,"cornerRadius":9},"encoding":{"x2":{"field":"x2"},"y2":{"field":"t2"}}},
{"data":{"name":"bluerect"},"mark":{"type":"rect","fill":"#4a7dab","opacity":1,"cornerRadius":6},"encoding":{"x2":{"field":"x2"},"y2":{"field":"t2"}}},
{"data":{"name":"w_roman"},"mark":{"type":"text","align":"left","baseline":"alphabetic","font":"Liberation Serif","fontSize":60,"color":"#ffffff"},"encoding":{"text":{"field":"label"}}},
{"data":{"name":"w_italic"},"mark":{"type":"text","align":"left","baseline":"alphabetic","font":"Liberation Serif","fontStyle":"italic","fontSize":60,"color":"#ffffff"},"encoding":{"text":{"field":"label"}}},
{"data":{"name":"w_sub"},"mark":{"type":"text","align":"left","baseline":"alphabetic","font":"Liberation Serif","fontSize":34,"color":"#ffffff"},"encoding":{"text":{"field":"label"}}},
{"data":{"name":"w_rad"},"mark":{"type":"text","align":"left","baseline":"alphabetic","font":"DejaVu Serif","fontSize":68,"color":"#ffffff"},"encoding":{"text":{"field":"label"}}},
{"data":{"name":"w_bar"},"mark":{"type":"rule","color":"#ffffff","strokeWidth":3},"encoding":{"x2":{"field":"x2"}}},
{"data":{"name":"k_roman"},"mark":{"type":"text","align":"left","baseline":"alphabetic","font":"Liberation Serif","fontSize":76,"color":"#000000"},"encoding":{"text":{"field":"label"}}},
{"data":{"name":"k_italic"},"mark":{"type":"text","align":"left","baseline":"alphabetic","font":"Liberation Serif","fontStyle":"italic","fontSize":76,"color":"#000000"},"encoding":{"text":{"field":"label"}}},
{"data":{"name":"k_sub"},"mark":{"type":"text","align":"left","baseline":"alphabetic","font":"Liberation Serif","fontStyle":"italic","fontSize":44,"color":"#000000"},"encoding":{"text":{"field":"label"}}},
{"data":{"name":"k_rad"},"mark":{"type":"text","align":"left","baseline":"alphabetic","font":"DejaVu Serif","fontSize":80,"color":"#000000"},"encoding":{"text":{"field":"label"}}},
{"data":{"name":"k_sym"},"mark":{"type":"text","align":"left","baseline":"alphabetic","font":"DejaVu Serif","fontSize":70,"color":"#000000"},"encoding":{"text":{"field":"label"}}},
{"data":{"name":"k_bar"},"mark":{"type":"rule","color":"#000000","strokeWidth":3.5},"encoding":{"x2":{"field":"x2"}}},
{"data":{"name":"xt_main"},"mark":{"type":"text","align":"left","baseline":"alphabetic","font":"Liberation Sans","fontSize":50,"color":"#000000"},"encoding":{"text":{"field":"label"}}},
{"data":{"name":"xt_sub"},"mark":{"type":"text","align":"left","baseline":"alphabetic","font":"Liberation Sans","fontSize":40,"color":"#000000"},"encoding":{"text":{"field":"label"}}},
{"data":{"name":"credit"},"mark":{"type":"text","align":"center","baseline":"middle","angle":270,"font":"Lato","fontSize":52,"color":"#595959"},"encoding":{"text":{"field":"label"}}},
{"data":{"name":"legbox"},"mark":{"type":"point","opacity":0},
 "encoding":{
 "x":{"field":"x","type":"quantitative","scale":{"domain":[0,14],"nice":false,"zero":false},"axis":{"orient":"top","values":[2,4,6,8,10,12],"title":null,"grid":false,"domain":false,"labels":false,"ticks":true,"tickSize":-13,"tickColor":"#000000","tickWidth":1.5,"zindex":1}},
 "y":{"field":"t","type":"quantitative","scale":{"domain":[0,300],"nice":false,"zero":false},"axis":{"orient":"right","values":[50,100,150,200,250],"title":null,"grid":false,"domain":false,"labels":false,"ticks":true,"tickSize":-13,"tickColor":"#000000","tickWidth":1.5,"zindex":1}}
 }}
]
}
